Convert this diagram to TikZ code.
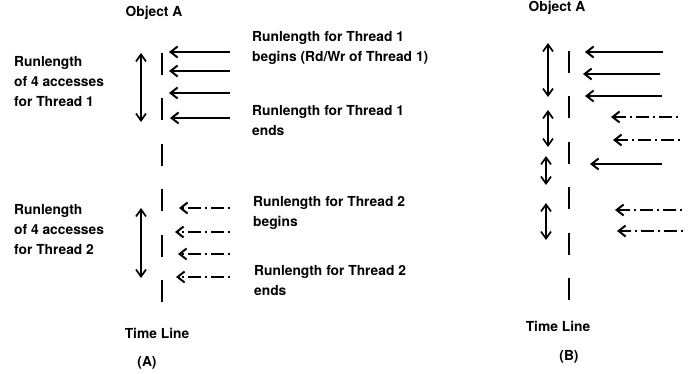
\documentclass[tikz,border=0pt]{standalone}
\usepackage{fontspec}
\setmainfont{TeX Gyre Heros}
\usetikzlibrary{arrows.meta}
\begin{document}
\begin{tikzpicture}[x=1pt, y=-1pt,
   lbl/.style={font=\bfseries\fontsize{13.8}{20}\selectfont, inner sep=0pt, align=left},
   timeline/.style={line width=2.2pt, dash pattern=on 22pt off 23.4pt},
   acc/.style={line width=2pt, -{Straight Barb[length=7pt,width=11pt]}},
   accdd/.style={acc, dash pattern=on 2pt off 4pt on 13pt off 4pt},
   run/.style={line width=1.7pt, {Straight Barb[length=7pt,width=10pt]}-{Straight Barb[length=7pt,width=10pt]}}]
   \useasboundingbox (0,0) rectangle (699,374);

   % (A)
   \node[lbl] (objA) at (154,13) {Object A};
   \node[lbl, anchor=west] (runA1) at (14,82) {Runlength\\of 4 accesses\\for Thread 1};
   \node[lbl, anchor=west] (begA1) at (252,47.5) {Runlength for Thread 1\\begins (Rd/Wr of Thread 1)};
   \node[lbl, anchor=west] (endA1) at (252,120.5) {Runlength for Thread 1\\ends};
   \node[lbl, anchor=west] (runA2) at (14,230) {Runlength\\of 4 accesses\\for Thread 2};
   \node[lbl, anchor=west] (begA2) at (253,212.5) {Runlength for Thread 2\\begins};
   \node[lbl, anchor=west] (endA2) at (254,281) {Runlength for Thread 2\\ends};
   \node[lbl] (tlA) at (157,333) {Time Line};
   \node[lbl] (capA) at (147,363) {(A)};

   \coordinate (topA) at (162,53);
   \coordinate (botA) at (162,303);
   \draw[timeline] (topA) -- (botA);

   \foreach \n/\y/\t in {1/52/169, 2/71/169, 3/93/169, 4/118/170} {
     \coordinate (sa\n) at (230,\y);
     \coordinate (ea\n) at (\t,\y);
     \draw[acc] (sa\n) -- (ea\n);
   }
   \foreach \n/\y/\t in {1/208/179, 2/232/175, 3/254/178, 4/277/176} {
     \coordinate (sb\n) at (230,\y);
     \coordinate (eb\n) at (\t,\y);
     \draw[accdd] (sb\n) -- (eb\n);
   }
   \foreach \n/\a/\b in {1/53/122, 2/208/278} {
     \coordinate (ra\n) at (141,\a);
     \coordinate (rb\n) at (141,\b);
     \draw[run] (ra\n) -- (rb\n);
   }

   % (B)
   \node[lbl] (objB) at (557,8) {Object A};
   \node[lbl] (tlB) at (558,326) {Time Line};
   \node[lbl] (capB) at (569,357) {(B)};

   \coordinate (topB) at (569,51);
   \coordinate (botB) at (569,300);
   \draw[timeline] (topB) -- (botB);

   \foreach \n/\y/\s/\t in {1/52/663/585, 2/74/660/583, 3/96/662/585, 4/164/662/590} {
     \coordinate (sc\n) at (\s,\y);
     \coordinate (ec\n) at (\t,\y);
     \draw[acc] (sc\n) -- (ec\n);
   }
   \foreach \n/\y/\s/\t in {1/117/678/611, 2/140/680/613, 3/210/682/615, 4/231/683/617} {
     \coordinate (sd\n) at (\s,\y);
     \coordinate (ed\n) at (\t,\y);
     \draw[accdd] (sd\n) -- (ed\n);
   }
   \foreach \n/\x/\a/\b in {1/548/43/97, 2/548/110/147, 3/546/156/185, 4/546/203/240} {
     \coordinate (rc\n) at (\x,\a);
     \coordinate (rd\n) at (\x,\b);
     \draw[run] (rc\n) -- (rd\n);
   }
\end{tikzpicture}
\end{document}
